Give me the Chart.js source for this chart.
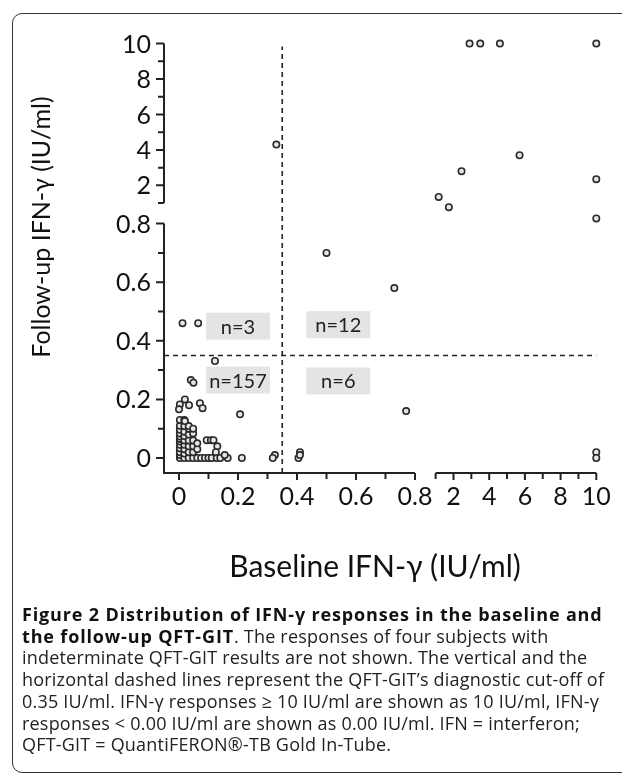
<!DOCTYPE html>
<html>
<head>
<meta charset="utf-8">
<script src="https://cdn.jsdelivr.net/npm/chart.js@4.4.0/dist/chart.umd.min.js"></script>
<style>
  body { margin: 0; background: #fff; overflow: hidden; }
  #wrap { position: relative; width: 622px; height: 776px; overflow: hidden; }
  #frame { position: absolute; left: 12px; top: 13px; width: 720px; height: 758px;
           border: 1.5px solid #333; border-radius: 10px; }
  #chart { position: absolute; left: 0; top: 0; }
  #caption { position: absolute; left: 22px; top: 604px; font-family: "Open Sans", sans-serif;
             font-size: 18px; letter-spacing: 0.2px; line-height: 21.7px; color: #222; white-space: nowrap; }
  #caption b { font-weight: 700; color: #111; letter-spacing: 0.85px; }
</style>
</head>
<body>
<div id="wrap">
  <div id="frame"></div>
  <canvas id="chart" width="622" height="776"></canvas>
  <div id="caption">
    <b>Figure 2 Distribution of IFN-γ responses in the baseline and</b><br>
    <b>the follow-up QFT-GIT</b>. The responses of four subjects with<br>
    indeterminate QFT-GIT results are not shown. The vertical and the<br>
    horizontal dashed lines represent the QFT-GIT’s diagnostic cut-off of<br>
    0.35 IU/ml. IFN-γ responses ≥ 10 IU/ml are shown as 10 IU/ml, IFN-γ<br>
    responses &lt; 0.00 IU/ml are shown as 0.00 IU/ml. IFN = interferon;<br>
    QFT-GIT = QuantiFERON®-TB Gold In-Tube.
  </div>
</div>
<script>
// Baseline and follow-up IFN-gamma (IU/ml), one entry per subject
const baseline = [
  2.9, 3.5, 4.6, 10, 5.7, 2.45, 10, 1.17, 1.74, 10, 0.5, 0.73,
  0.77, 0.41, 0.405, 0.41, 10, 10,
  0.012, 0.065, 0.33,
  0.122, 0.04, 0.049, 0.003, 0.02, 0.0, 0.034, 0.071, 0.08, 0.207,
  0.003, 0.003, 0.003, 0.003, 0.003, 0.003, 0.003, 0.003, 0.003, 0.003, 0.003, 0.003,
  0.018, 0.018, 0.018, 0.018, 0.018, 0.018, 0.018, 0.018, 0.018,
  0.033, 0.033, 0.033, 0.033, 0.033, 0.033, 0.033, 0.02,
  0.048, 0.048, 0.048, 0.048, 0.048, 0.048,
  0.062, 0.062, 0.062,
  0.075, 0.088, 0.1, 0.111, 0.128, 0.14, 0.165, 0.213, 0.155,
  0.094, 0.108, 0.117, 0.13, 0.125,
  0.325, 0.318
];
const followUp = [
  10, 10, 10, 10, 3.7, 2.8, 2.35, 1.35, 0.96, 0.85, 0.7, 0.58,
  0.16, 0.02, 0.0, 0.01, 0.02, 0.0,
  0.46, 0.46, 4.3,
  0.331, 0.266, 0.257, 0.183, 0.2, 0.166, 0.18, 0.187, 0.17, 0.149,
  0, 0.01, 0.02, 0.033, 0.045, 0.056, 0.065, 0.073, 0.084, 0.096, 0.11, 0.13,
  0, 0.015, 0.03, 0.045, 0.06, 0.075, 0.09, 0.109, 0.13,
  0, 0.02, 0.04, 0.06, 0.08, 0.1, 0.109, 0.126,
  0, 0.02, 0.04, 0.06, 0.084, 0.1,
  0, 0.03, 0.05,
  0, 0, 0, 0, 0, 0, 0, 0, 0.01,
  0.061, 0.061, 0.061, 0.04, 0.02,
  0.01, 0
];

// Axis ticks: lower segment and upper segment of the broken axes
const lowTicks = [0, 0.2, 0.4, 0.6, 0.8];
const lowMinor = [0.1, 0.3, 0.5, 0.7];
const highTicks = [2, 4, 6, 8, 10];
const highMinor = [1, 3, 5, 7, 9];
const cutoff = 0.35;

// Quadrant counts, box centres in data units
const quadLabels = ["n=3", "n=12", "n=157", "n=6"];
const quadX = [0.2, 0.54, 0.2, 0.54];
const quadY = [0.45, 0.455, 0.266, 0.263];

// Broken axis: 0-0.8 linear, then 1-10 compressed
const brk = (v) => v <= 0.8 ? v : (v < 1 ? 0.8 + (v - 0.8) * 0.35 : 0.87 + (v - 1) * 0.0605);

const points = baseline.map((x, i) => ({ x: brk(x), y: brk(followUp[i]) }));

const font = "Lato, sans-serif";

const axesPlugin = {
  id: "brokenAxes",
  beforeDatasetsDraw(chart) {
    const { ctx, scales: { x, y } } = chart;
    const X = (v) => x.getPixelForValue(brk(v));
    const Y = (v) => y.getPixelForValue(brk(v));
    const x0 = x.getPixelForValue(x.min);
    const y0 = y.getPixelForValue(y.min);
    ctx.save();

    // cut-off lines
    ctx.strokeStyle = "#222";
    ctx.lineWidth = 1.6;
    ctx.setLineDash([5, 4]);
    ctx.beginPath();
    ctx.moveTo(X(cutoff), y0);
    ctx.lineTo(X(cutoff), Y(10) + 3);
    ctx.moveTo(x0, Y(cutoff));
    ctx.lineTo(X(10), Y(cutoff));
    ctx.stroke();
    ctx.setLineDash([]);

    // quadrant boxes
    ctx.font = "20px " + font;
    ctx.textAlign = "center";
    ctx.textBaseline = "middle";
    quadLabels.forEach((t, i) => {
      const cx = X(quadX[i]), cy = Y(quadY[i]);
      ctx.fillStyle = "#e4e4e4";
      ctx.fillRect(cx - 32, cy - 13.5, 64, 27);
      ctx.fillStyle = "#222";
      ctx.fillText(t, cx, cy + 1);
    });

    // axes
    ctx.strokeStyle = "#222";
    ctx.lineWidth = 2;
    ctx.beginPath();
    ctx.moveTo(x0, Y(0.8));
    ctx.lineTo(x0, y0);
    ctx.lineTo(X(0.8), y0);
    ctx.moveTo(x0, Y(1));
    ctx.lineTo(x0, Y(10));
    ctx.moveTo(X(1), y0);
    ctx.lineTo(X(10), y0);
    lowTicks.concat(highTicks).forEach((v) => {
      ctx.moveTo(x0, Y(v)); ctx.lineTo(x0 - 8, Y(v));
      ctx.moveTo(X(v), y0); ctx.lineTo(X(v), y0 + 7);
    });
    lowMinor.concat(highMinor).forEach((v) => {
      ctx.moveTo(x0, Y(v)); ctx.lineTo(x0 - 6, Y(v));
      ctx.moveTo(X(v), y0); ctx.lineTo(X(v), y0 + 6);
    });
    ctx.stroke();

    // tick labels
    ctx.fillStyle = "#111";
    ctx.font = "25px " + font;
    ctx.textAlign = "right";
    ctx.textBaseline = "middle";
    lowTicks.concat(highTicks).forEach((v) => ctx.fillText(String(v), x0 - 13, Y(v) + 1));
    ctx.textAlign = "center";
    lowTicks.concat(highTicks).forEach((v) => ctx.fillText(String(v), X(v), y0 + 24));

    // axis titles
    ctx.font = "30px " + font;
    ctx.fillText("Baseline IFN-γ (IU/ml)", 375, 567);
    ctx.font = "25px " + font;
    ctx.translate(42, 227);
    ctx.rotate(-Math.PI / 2);
    ctx.fillText("Follow-up IFN-γ (IU/ml)", 0, 0);
    ctx.restore();
  }
};

new Chart(document.getElementById("chart"), {
  type: "scatter",
  data: {
    datasets: [{
      data: points,
      pointRadius: 3.2,
      pointBorderWidth: 1.6,
      pointBackgroundColor: "#e6e6e6",
      pointBorderColor: "#2a2a2a",
      clip: false
    }]
  },
  options: {
    responsive: false,
    animation: false,
    layout: { padding: { left: 164, right: 24, top: 42, bottom: 303 } },
    plugins: { legend: { display: false }, tooltip: { enabled: false } },
    scales: {
      x: { type: "linear", display: false, min: -0.0508, max: 1.4203 },
      y: { type: "linear", display: false, min: -0.0512, max: 1.4198 }
    }
  },
  plugins: [axesPlugin]
});
</script>
</body>
</html>
